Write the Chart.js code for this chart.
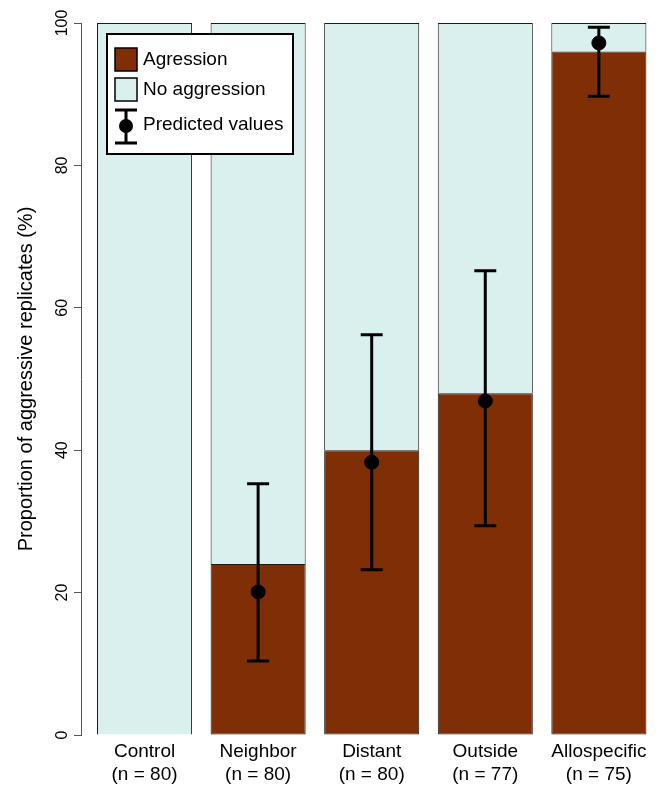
<!DOCTYPE html>
<html>
<head>
<meta charset="utf-8">
<script src="https://cdn.jsdelivr.net/npm/chart.js@4"></script>
<style>
  body { margin: 0; background: #fff; }
  #wrap { width: 662px; height: 786px; position: relative; }
</style>
</head>
<body>
<div id="wrap"><canvas id="chart"></canvas></div>
<script>
const categories = ['Control', 'Neighbor', 'Distant', 'Outside', 'Allospecific'];
const sampleSizes = ['(n = 80)', '(n = 80)', '(n = 80)', '(n = 77)', '(n = 75)'];
const aggression = [0, 24, 40, 48, 96];
const noAggression = [100, 76, 60, 52, 4];
const predicted = [null, 20.1, 38.3, 46.9, 97.2];
const predictedLow = [null, 10.4, 23.2, 29.4, 89.7];
const predictedHigh = [null, 35.3, 56.2, 65.2, 99.4];
const yTicks = [0, 20, 40, 60, 80, 100];

const FONT = '"Liberation Sans", Arial, Helvetica, sans-serif';
const BROWN = '#7F2E06';
const PALE = '#DAF0EE';

const toXY = (arr) => arr.map((v, i) => ({ x: i + 1, y: v })).filter(p => p.y !== null);

// error bars for the predicted values
const errorBars = {
    id: 'errorBars',
    afterDatasetsDraw(chart) {
        const ctx = chart.ctx;
        const xs = chart.scales.x, ys = chart.scales.y;
        ctx.save();
        ctx.strokeStyle = '#000';
        ctx.lineWidth = 3;
        predicted.forEach((v, i) => {
            if (v === null) return;
            const x = xs.getPixelForValue(i + 1);
            const lo = ys.getPixelForValue(predictedLow[i]);
            const hi = ys.getPixelForValue(predictedHigh[i]);
            ctx.beginPath();
            ctx.moveTo(x, lo); ctx.lineTo(x, hi);
            ctx.moveTo(x - 11, lo); ctx.lineTo(x + 11, lo);
            ctx.moveTo(x - 11, hi); ctx.lineTo(x + 11, hi);
            ctx.stroke();
        });
        ctx.restore();
    }
};

// boxed legend inside the plot, R style
const boxLegend = {
    id: 'boxLegend',
    afterDraw(chart) {
        const ctx = chart.ctx;
        const ca = chart.chartArea;
        const ds = chart.data.datasets;
        const bx = ca.left + 26, by = ca.top + 11;
        ctx.save();
        ctx.fillStyle = '#fff';
        ctx.fillRect(bx, by, 186, 120);
        ctx.strokeStyle = '#000';
        ctx.lineWidth = 2;
        ctx.strokeRect(bx, by, 186, 120);

        ctx.lineWidth = 1.5;
        ctx.fillStyle = BROWN;
        ctx.fillRect(bx + 8, by + 14, 22, 23);
        ctx.strokeRect(bx + 8, by + 14, 22, 23);
        ctx.fillStyle = PALE;
        ctx.fillRect(bx + 8, by + 44, 22, 23);
        ctx.strokeRect(bx + 8, by + 44, 22, 23);

        const cx = bx + 19;
        ctx.lineWidth = 3;
        ctx.beginPath();
        ctx.moveTo(cx, by + 76); ctx.lineTo(cx, by + 109);
        ctx.moveTo(cx - 11, by + 76); ctx.lineTo(cx + 11, by + 76);
        ctx.moveTo(cx - 11, by + 109); ctx.lineTo(cx + 11, by + 109);
        ctx.stroke();
        ctx.fillStyle = '#000';
        ctx.beginPath();
        ctx.arc(cx, by + 92, 7, 0, Math.PI * 2);
        ctx.fill();

        ctx.font = '19px ' + FONT;
        ctx.textBaseline = 'middle';
        ctx.textAlign = 'left';
        ctx.fillText(ds[0].label, bx + 36, by + 26);
        ctx.fillText(ds[1].label, bx + 36, by + 56);
        ctx.fillText(ds[2].label, bx + 36, by + 91);
        ctx.restore();
    }
};

const config = {
    type: 'bar',
    data: {
        datasets: [{
            label: 'Agression',
            data: toXY(aggression),
            backgroundColor: BROWN,
            borderColor: '#1a1a1a',
            borderWidth: 1,
            borderSkipped: false,
            stack: 'obs',
            barPercentage: 0.837,
            categoryPercentage: 1,
            order: 2
        }, {
            label: 'No aggression',
            data: toXY(noAggression),
            backgroundColor: PALE,
            borderColor: '#1a1a1a',
            borderWidth: { top: 1, left: 1, right: 1, bottom: 0 },
            borderSkipped: false,
            stack: 'obs',
            barPercentage: 0.837,
            categoryPercentage: 1,
            order: 2
        }, {
            type: 'scatter',
            label: 'Predicted values',
            data: toXY(predicted),
            stack: 'pred',
            backgroundColor: '#000',
            borderColor: '#000',
            pointRadius: 7,
            pointHoverRadius: 7,
            order: 1
        }]
    },
    options: {
        responsive: true,
        maintainAspectRatio: false,
        animation: false,
        layout: { padding: { left: 0, top: 23, right: 2, bottom: 0 } },
        plugins: {
            legend: { display: false },
            tooltip: { enabled: false }
        },
        scales: {
            x: {
                type: 'linear',
                stacked: true,
                offset: false,
                bounds: 'data',
                min: 0.4405,
                max: 5.4855,
                grid: { display: false, offset: false },
                border: { display: false },
                afterBuildTicks: (s) => { s.ticks = categories.map((c, i) => ({ value: i + 1 })); },
                afterFit: (s) => { s.height = 51; },
                ticks: {
                    color: '#000',
                    padding: -3,
                    maxRotation: 0,
                    autoSkip: false,
                    font: { family: FONT, size: 19, lineHeight: 1.22 },
                    callback: (v) => {
                        const i = Math.round(v) - 1;
                        return categories[i] !== undefined ? [categories[i], sampleSizes[i]] : '';
                    }
                }
            },
            y: {
                stacked: true,
                min: 0,
                max: 100,
                afterBuildTicks: (s) => { s.ticks = yTicks.map(v => ({ value: v })); },
                afterFit: (s) => { s.width = 81; },
                grid: {
                    drawOnChartArea: false,
                    drawTicks: true,
                    tickLength: 7,
                    color: '#555',
                    lineWidth: 1
                },
                border: { display: true, color: '#555', width: 1 },
                ticks: {
                    color: '#000',
                    padding: -2,
                    minRotation: 90,
                    maxRotation: 90,
                    crossAlign: 'center',
                    font: { family: FONT, size: 16 }
                },
                title: {
                    display: true,
                    text: 'Proportion of aggressive replicates (%)',
                    color: '#000',
                    padding: { top: 14, bottom: 0 },
                    font: { family: FONT, size: 20 }
                }
            }
        }
    },
    plugins: [errorBars, boxLegend]
};

var myChart = new Chart(document.getElementById('chart'), config);
</script>
</body>
</html>
